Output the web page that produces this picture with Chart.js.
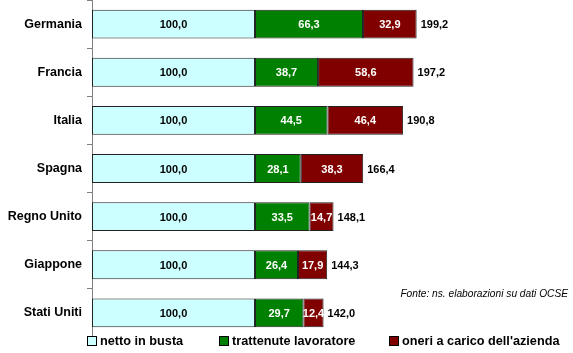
<!DOCTYPE html>
<html>
<head>
<meta charset="utf-8">
<script src="https://cdn.jsdelivr.net/npm/chart.js@4/dist/chart.umd.min.js"></script>
<style>
  body { margin: 0; background: #fff; }
  #wrap { position: relative; width: 573px; height: 353px; }
  #legend { position: absolute; left: 0; top: 334px; width: 573px; height: 19px;
            font: bold 12.7px "Liberation Sans", Arial, sans-serif; color: #000; }
  .item { position: absolute; top: 0; white-space: nowrap; line-height: 15px; }
  .box { display: inline-block; width: 8px; height: 8px; border: 1px solid #000;
         margin-right: 3px; vertical-align: -1px; }
</style>
</head>
<body>
<div id="wrap">
  <canvas id="mainChart" width="573" height="353"></canvas>
  <div id="legend"></div>
</div>
<script>
// paesi
var countries = ["Germania", "Francia", "Italia", "Spagna", "Regno Unito", "Giappone", "Stati Uniti"];
// serie
var netto = [100, 100, 100, 100, 100, 100, 100];
var trattenute = [66.3, 38.7, 44.5, 28.1, 33.5, 26.4, 29.7];
var oneri = [32.9, 58.6, 46.4, 38.3, 14.7, 17.9, 12.4];
// totali come scritti sul grafico
var totali = [199.2, 197.2, 190.8, 166.4, 148.1, 144.3, 142.0];

var seriesNames = ["netto in busta", "trattenute lavoratore", "oneri a carico dell'azienda"];
var colors = ["#CCFFFF", "#008000", "#800000"];
var labelColors = ["#000", "#fff", "#fff"];
var fonte = "Fonte: ns. elaborazioni su dati OCSE";

function fmt(v) {
    return v.toFixed(1).replace(".", ",");
}

var valueLabels = {
    id: "valueLabels",
    afterDatasetsDraw: function (chart) {
        var ctx = chart.ctx;
        ctx.save();
        ctx.font = "bold 11px 'Liberation Sans', Arial, sans-serif";
        ctx.textBaseline = "middle";
        chart.data.datasets.forEach(function (ds, i) {
            var meta = chart.getDatasetMeta(i);
            meta.data.forEach(function (el, j) {
                ctx.fillStyle = labelColors[i];
                ctx.textAlign = "center";
                ctx.fillText(fmt(ds.data[j]), (el.x + el.base) / 2, el.y + 1);
                if (i == chart.data.datasets.length - 1) {
                    ctx.fillStyle = "#000";
                    ctx.textAlign = "left";
                    ctx.fillText(fmt(totali[j]), el.x + 4, el.y + 1);
                }
            });
        });
        // nota fonte
        ctx.font = "italic 10.2px 'Liberation Sans', Arial, sans-serif";
        ctx.textAlign = "right";
        ctx.fillStyle = "#000";
        ctx.fillText(fonte, 568, 294);
        ctx.restore();
    }
};

var ctx = document.getElementById('mainChart').getContext('2d');
var mainChart = new Chart(ctx, {
    type: 'bar',
    data: {
        labels: countries,
        datasets: [netto, trattenute, oneri].map(function (arr, i) {
            return {
                label: seriesNames[i],
                data: arr,
                backgroundColor: colors[i],
                borderColor: "#222",
                borderWidth: 1,
                borderSkipped: false,
                barPercentage: 0.6,
                categoryPercentage: 1
            };
        })
    },
    options: {
        indexAxis: 'y',
        responsive: false,
        animation: false,
        layout: { padding: { top: 0, right: 10, bottom: 16, left: 0 } },
        plugins: {
            legend: { display: false },
            tooltip: { enabled: false }
        },
        scales: {
            x: {
                stacked: true,
                display: false,
                min: 0,
                max: 289
            },
            y: {
                stacked: true,
                afterFit: function (scale) {
                    scale.width = 92;
                    scale.paddingTop = 0;
                    scale.paddingBottom = 0;
                },
                grid: {
                    drawOnChartArea: false,
                    drawTicks: true,
                    tickLength: 5,
                    color: "#808080",
                    offset: true
                },
                border: { color: "#808080", width: 1 },
                ticks: {
                    padding: 5,
                    color: "#000",
                    font: { family: "'Liberation Sans', Arial, sans-serif", size: 12.5, weight: "bold" }
                }
            }
        }
    },
    plugins: [valueLabels]
});

// legenda html dai dataset
var lefts = [87, 219, 389];
var legend = document.getElementById("legend");
mainChart.data.datasets.forEach(function (ds, i) {
    var item = document.createElement("div");
    item.className = "item";
    item.style.left = lefts[i] + "px";
    var box = document.createElement("span");
    box.className = "box";
    box.style.background = ds.backgroundColor;
    item.appendChild(box);
    item.appendChild(document.createTextNode(ds.label));
    legend.appendChild(item);
});
</script>
</body>
</html>
